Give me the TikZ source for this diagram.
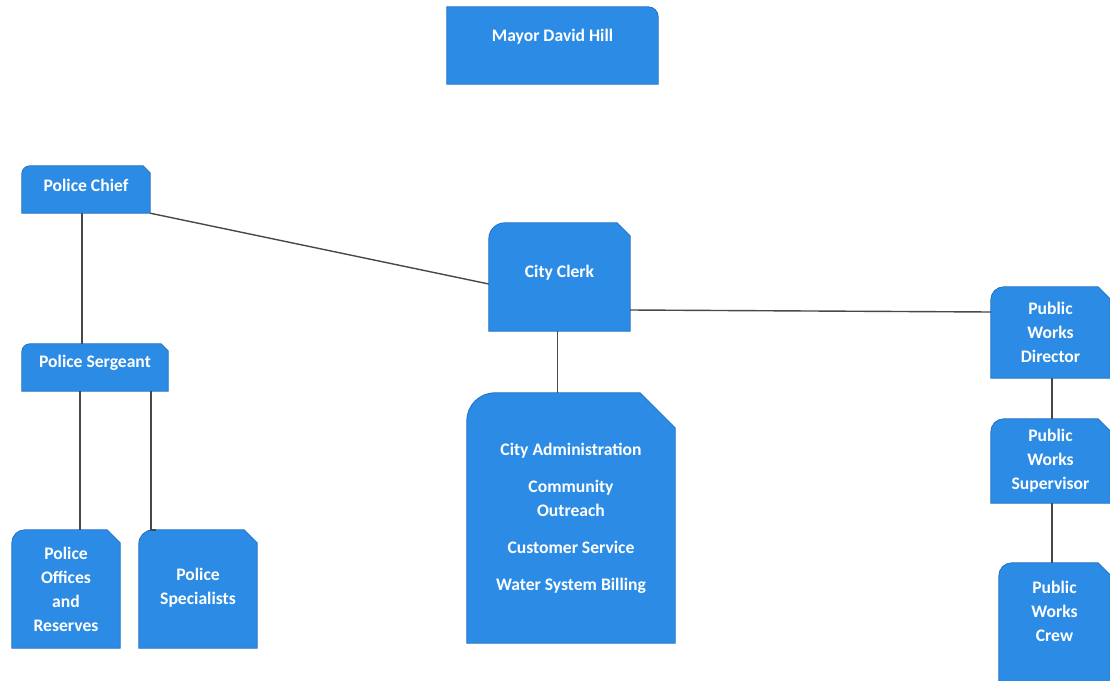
\documentclass[tikz,border=0pt]{standalone}
\usepackage{fontspec}
\setmainfont{Carlito}
\usetikzlibrary{backgrounds}
\definecolor{boxblue}{RGB}{44,140,229}
\definecolor{boxedge}{RGB}{32,112,196}
\definecolor{linegray}{RGB}{72,72,72}
\newcommand\orgshape[3]{%
  \begin{pgfonlayer}{background}
  \path[boxpaint] (#1.south west) -- ([yshift=-#2pt]#1.north west)
    arc[start angle=180,end angle=90,radius=#2pt]
    -- ([xshift=-#3pt]#1.north east) -- ([yshift=-#3pt]#1.north east)
    -- (#1.south east) -- cycle;
  \end{pgfonlayer}}
\tikzset{
  boxpaint/.style={fill=boxblue, draw=boxedge, line width=0.8pt},
  orgbox/.style={inner sep=0pt, text=white, align=center,
    font=\bfseries\fontsize{17.6}{24}\selectfont},
  link/.style={draw=linegray, line width=1.4pt}
}
\begin{document}
\begin{tikzpicture}[x=1pt,y=1pt]
\useasboundingbox (0,0) rectangle (1110,-680);
% nodes
\node[orgbox, minimum width=211pt, minimum height=77pt, text depth=20pt] (mayor) at (552.5,-45.5) {Mayor David Hill};
\node[orgbox, minimum width=128pt, minimum height=47pt, text depth=8pt] (chief) at (86,-189.5) {Police Chief};
\node[orgbox, minimum width=141pt, minimum height=108pt, text depth=12pt] (clerk) at (559.5,-277) {City Clerk};
\node[orgbox, minimum width=146pt, minimum height=47pt, text depth=12pt] (sgt) at (95,-367.5) {Police Sergeant};
\node[orgbox, minimum width=208pt, minimum height=250pt] (admin) at (571,-518)
  {City Administration\\[13pt] Community\\ Outreach\\[13pt] Customer Service\\[13pt] Water System Billing};
\node[orgbox, minimum width=108pt, minimum height=118pt] (offices) at (66,-589) {Police\\ Offices\\ and\\ Reserves};
\node[orgbox, minimum width=118pt, minimum height=118pt, text depth=5pt] (spec) at (198,-589) {Police\\ Specialists};
\node[orgbox, minimum width=119pt, minimum height=91pt] (pwd) at (1050.5,-332.5) {Public\\ Works\\ Director};
\node[orgbox, minimum width=119pt, minimum height=84pt] (pws) at (1050.5,-461) {Public\\ Works\\ Supervisor};
\node[orgbox, minimum width=111pt, minimum height=127pt] (crew) at (1054.5,-626.5) {Public\\ Works\\ Crew\\[6pt]\mbox{}};
% shapes
\begin{pgfonlayer}{background}
\path[boxpaint] (mayor.south west) -- (mayor.north west) -- ([xshift=-10pt]mayor.north east)
  arc[start angle=90,end angle=0,radius=10pt] -- (mayor.south east) -- cycle;
\end{pgfonlayer}
\orgshape{chief}{8}{7}
\orgshape{clerk}{16}{13}
\orgshape{sgt}{8}{7}
\orgshape{admin}{28}{35}
\orgshape{offices}{13}{13}
\orgshape{spec}{14}{13}
\orgshape{pwd}{13}{12}
\orgshape{pws}{13}{12}
\orgshape{crew}{13}{12}
% connectors
\draw[link] ([xshift=-4pt]chief.south) -- ([xshift=-4pt]chief.south |- sgt.north);
\draw[link] (chief.south east) -- ([yshift=-7pt]clerk.west);
\draw[link] ([yshift=-33pt]clerk.east) -- ([yshift=20.5pt]pwd.west);
\draw[link] ([xshift=-2pt]clerk.south) -- ([xshift=-2pt]clerk.south |- admin.north);
\draw[link] ([xshift=-15pt]sgt.south) -- ([xshift=-15pt]sgt.south |- offices.north);
\draw[link] ([xshift=56pt]sgt.south) -- ([xshift=56pt]sgt.south |- spec.north) -- ([xshift=17pt]spec.north west);
\draw[link] ([xshift=1.5pt]pwd.south) -- ([xshift=1.5pt]pws.north);
\draw[link] ([xshift=1.5pt]pws.south) -- ([xshift=-2.5pt]crew.north);
\end{tikzpicture}
\end{document}
